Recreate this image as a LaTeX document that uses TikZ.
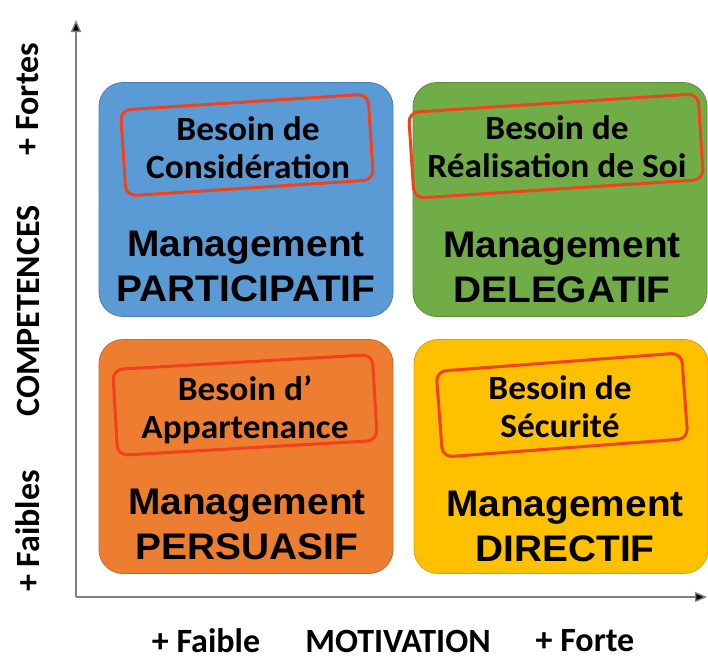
\documentclass[tikz,border=0pt]{standalone}
\usepackage{fontspec}
\setmainfont{Carlito}
\newfontfamily\arialfont{Liberation Sans}
\usetikzlibrary{arrows.meta}

\definecolor{qblue}{HTML}{5B9BD5}
\definecolor{qblueedge}{HTML}{4A7EBB}
\definecolor{qgreen}{HTML}{70AD47}
\definecolor{qgreenedge}{HTML}{5A8C3A}
\definecolor{qorange}{HTML}{ED7D31}
\definecolor{qorangeedge}{HTML}{C9682A}
\definecolor{qyellow}{HTML}{FFC000}
\definecolor{qyellowedge}{HTML}{D9A400}
\definecolor{needred}{HTML}{F2421B}
\definecolor{axisgray}{HTML}{808080}

\tikzset{
  quad/.style={rectangle, rounded corners=24pt, line width=0.8pt,
    minimum width=294pt, minimum height=234pt, inner sep=0pt},
  needframe/.style={rectangle, rounded corners=10pt, draw=needred,
    line width=3pt, minimum height=86pt, inner sep=0pt},
  needtext/.style={align=center, text=black, xscale=1.04, transform shape,
    font=\bfseries\fontsize{34}{38}\selectfont},
  mgmt/.style={align=center, text=black, xscale=1.05, transform shape,
    font=\arialfont\bfseries\fontsize{37}{45}\selectfont},
  axislabel/.style={text=black, font=\bfseries\fontsize{34}{38}\selectfont},
  axisline/.style={draw=axisgray, line width=1.4pt,
    -{Triangle[length=12pt,width=10pt,fill=black]}},
}

\begin{document}
\begin{tikzpicture}[x=1pt, y=-1pt]
\useasboundingbox[fill=white] (0,0) rectangle (708,664);

% axes
\coordinate (origin) at (76,597);
\coordinate (ytip) at (76,20);
\coordinate (xtip) at (707,597);
\draw[axisline] (origin) -- (ytip);
\draw[axisline] (origin) -- (xtip);

% quadrants
\node[quad, fill=qblue, draw=qblueedge] (partic) at (246,199.5) {};
\node[quad, fill=qgreen, draw=qgreenedge] (deleg) at (560,199.5) {};
\node[quad, fill=qorange, draw=qorangeedge] (persu) at (246,456.5) {};
\node[quad, fill=qyellow, draw=qyellowedge] (direc) at (561,456.5) {};

% need frames
\node[needframe, minimum width=248pt, rotate=3.7] (fconsid) at (247,145) {};
\node[needframe, minimum width=290pt, rotate=3.7] (freal) at (556,146) {};
\node[needframe, minimum width=260pt, rotate=3.3] (fappart) at (245,405) {};
\node[needframe, minimum width=246pt, rotate=4.3] (fsecur) at (562,405) {};

% need texts
\node[needtext] (tconsid) at (248,148) {Besoin de\\Considération};
\node[needtext] (treal) at (557,147) {Besoin de\\Réalisation de Soi};
\node[needtext] (tappart) at (245,410) {Besoin d’\\Appartenance};
\node[needtext] (tsecur) at (560,407) {Besoin de\\Sécurité};

% management styles
\node[mgmt] (mpartic) at (246,266) {Management\\PARTICIPATIF};
\node[mgmt] (mdeleg) at (562,267) {Management\\DELEGATIF};
\node[mgmt] (mpersu) at (247,524) {Management\\PERSUASIF};
\node[mgmt] (mdirec) at (565,526) {Management\\DIRECTIF};

% axis labels
\node[axislabel] (xlow) at (206,641) {+ Faible};
\node[axislabel] (xname) at (398,641) {MOTIVATION};
\node[axislabel] (xhigh) at (585,641) {+ Forte};
\node[axislabel, rotate=90] (yhigh) at (28,99) {+ Fortes};
\node[axislabel, rotate=90] (yname) at (28,311) {COMPETENCES};
\node[axislabel, rotate=90] (ylow) at (28,531) {+ Faibles};
\end{tikzpicture}
\end{document}
